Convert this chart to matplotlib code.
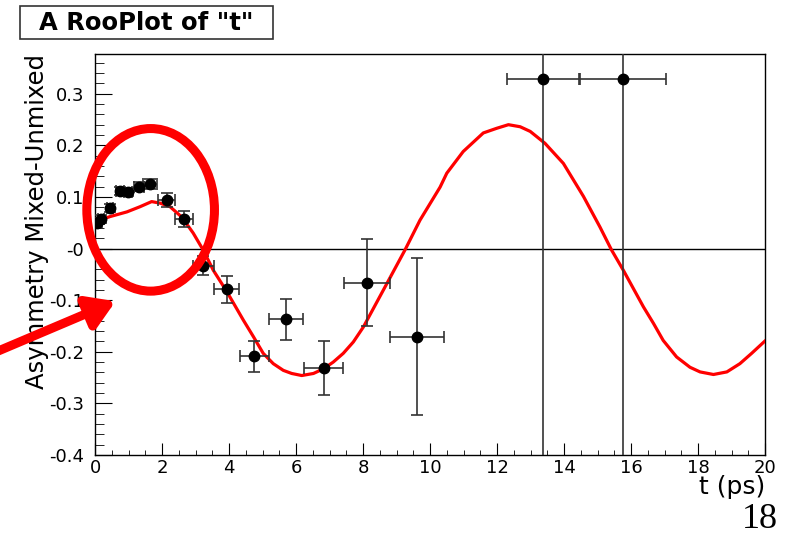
import matplotlib.pyplot as plt
from matplotlib.patches import Ellipse, Rectangle
from matplotlib.ticker import MultipleLocator, FixedLocator, FixedFormatter

plt.rcParams["font.family"] = ["DejaVu Sans"]

# data points (asymmetry per time bin)
t_pts = [0.05, 0.18, 0.45, 0.75, 0.99, 1.31, 1.64, 2.14, 2.66, 3.23, 3.93,
         4.76, 5.70, 6.82, 8.11, 9.62, 13.38, 15.75]
a_pts = [0.049, 0.057, 0.079, 0.112, 0.110, 0.120, 0.125, 0.094, 0.057,
         -0.033, -0.079, -0.209, -0.137, -0.231, -0.066, -0.171, 0.329, 0.329]
t_err = [0.05, 0.08, 0.1, 0.12, 0.12, 0.15, 0.2, 0.25, 0.27, 0.32, 0.37,
         0.43, 0.52, 0.59, 0.68, 0.81, 1.08, 1.28]
a_err = [0.008, 0.008, 0.008, 0.008, 0.008, 0.009, 0.01, 0.013, 0.016,
         0.018, 0.026, 0.030, 0.040, 0.052, 0.085, 0.152, 1.0, 1.0]

# fitted curve
t_fit = [0.0, 0.45, 0.95, 1.34, 1.69, 1.94, 2.24, 2.59, 2.93, 3.23, 3.53,
         3.93, 4.43, 4.73, 5.02, 5.32, 5.62, 5.87, 6.17, 6.52, 6.82, 7.11,
         7.41, 7.71, 8.01, 8.36, 8.71, 9.25, 9.70, 10.30, 10.50, 10.99,
         11.59, 11.99, 12.34, 12.69, 12.99, 13.43, 13.98, 14.28, 14.58,
         15.07, 15.42, 15.77, 16.37, 16.67, 16.96, 17.36, 17.76, 18.06,
         18.46, 18.86, 19.25, 19.60, 20.0]
a_fit = [0.052, 0.062, 0.071, 0.081, 0.091, 0.088, 0.081, 0.061, 0.030,
         -0.003, -0.042, -0.083, -0.139, -0.171, -0.203, -0.223, -0.236,
         -0.242, -0.246, -0.242, -0.233, -0.220, -0.203, -0.181, -0.152,
         -0.110, -0.068, -0.003, 0.055, 0.119, 0.146, 0.188, 0.224, 0.233,
         0.240, 0.236, 0.227, 0.204, 0.165, 0.133, 0.101, 0.042, -0.003,
         -0.042, -0.113, -0.145, -0.178, -0.210, -0.230, -0.239, -0.244,
         -0.239, -0.223, -0.203, -0.179]

y_ticks = [-0.4, -0.3, -0.2, -0.1, 0.0, 0.1, 0.2, 0.3]
y_labels = ["-0.4", "-0.3", "-0.2", "-0.1", "-0", "0.1", "0.2", "0.3"]

fig = plt.figure(figsize=(7.9, 5.36), dpi=100)
ax = fig.add_axes([0.1203, 0.1511, 0.8481, 0.7482])

ax.axhline(0, color="black", linewidth=1.0)
ax.plot(t_fit, a_fit, color="red", linewidth=2.3, solid_joinstyle="round",
        zorder=3)
ax.errorbar(t_pts, a_pts, xerr=t_err, yerr=a_err, fmt="o", color="black",
            ecolor="#333333", elinewidth=1.2, capsize=4, capthick=1.2,
            markersize=7.5, zorder=4)

ax.set_xlim(0, 20)
ax.set_ylim(-0.4, 0.377)
ax.xaxis.set_major_locator(MultipleLocator(2))
ax.xaxis.set_minor_locator(MultipleLocator(0.5))
ax.yaxis.set_major_locator(FixedLocator(y_ticks))
ax.yaxis.set_major_formatter(FixedFormatter(y_labels))
ax.yaxis.set_minor_locator(MultipleLocator(0.02))
ax.tick_params(axis="both", which="both", direction="in", top=False, right=False,
               labelsize=13, color="black")
ax.tick_params(axis="y", which="major", length=12, pad=8)
ax.tick_params(axis="y", which="minor", length=6.5)
ax.tick_params(axis="x", which="major", length=8.5, pad=3)
ax.tick_params(axis="x", which="minor", length=3.5)
for s in ax.spines.values():
    s.set_linewidth(1.0)

ax.set_ylabel("Asymmetry Mixed-Unmixed", fontsize=17.5, loc="top")
ax.yaxis.set_label_coords(-0.069, 1.0)
ax.set_xlabel("t (ps)", fontsize=18, loc="right")
ax.xaxis.set_label_coords(1.0, -0.05)

# highlight annotations
ax.add_patch(Ellipse((1.66, 0.075), 3.81, 0.315, fill=False, edgecolor="red",
                     linewidth=6.5, zorder=5, clip_on=False))
ax.annotate("", xy=(0.69, -0.100), xytext=(-3.2, -0.207),
            arrowprops=dict(arrowstyle="-|>,head_length=1.6,head_width=1.0",
                            color="red", lw=6.5),
            annotation_clip=False, zorder=6)

fig.add_artist(Rectangle((20 / 790, 1 - 39 / 536), 253 / 790, 33 / 536,
                         transform=fig.transFigure, fill=False,
                         edgecolor="#333333", linewidth=1.2))
fig.text(0.1854, 1 - 22.5 / 536, 'A RooPlot of "t"', fontsize=17.5,
         fontweight="bold", va="center", ha="center")
fig.text(0.985, 0.014, "18", fontsize=26, family="Liberation Serif",
         ha="right", va="baseline")

fig.savefig("out.png", dpi=100)
